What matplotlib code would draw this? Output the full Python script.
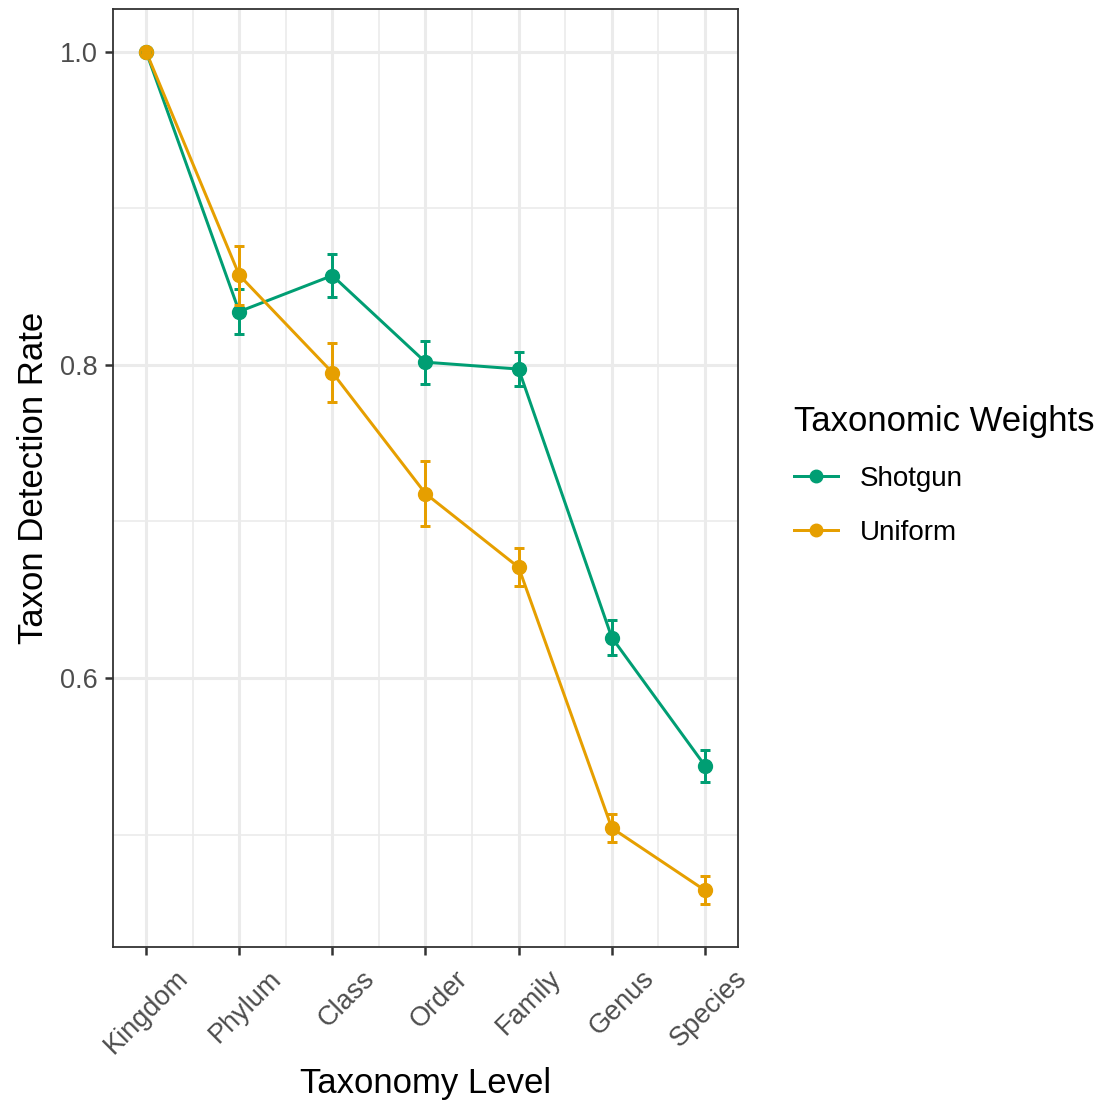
import matplotlib
matplotlib.use("Agg")
import matplotlib.pyplot as plt
import matplotlib.transforms as mtransforms
from matplotlib.lines import Line2D
import numpy as np

plt.rcParams['font.family'] = ['Liberation Sans', 'DejaVu Sans']

levels = ["Kingdom", "Phylum", "Class", "Order", "Family", "Genus", "Species"]
shotgun_rate = [1.0, 0.834, 0.857, 0.8017, 0.7973, 0.6259, 0.5441]
shotgun_err = [0.0, 0.0142, 0.0136, 0.0138, 0.0106, 0.0111, 0.0102]
uniform_rate = [1.0, 0.8573, 0.7951, 0.7178, 0.6707, 0.5043, 0.4645]
uniform_err = [0.0, 0.0188, 0.0191, 0.0209, 0.0121, 0.0090, 0.0090]
series_names = ["Shotgun", "Uniform"]
colors = ["#009E73", "#E69F00"]

W, H = 1097, 1102
fig = plt.figure(figsize=(W / 100, H / 100), dpi=100)
ax = fig.add_axes([113 / W, 1 - 947 / H, (738 - 113) / W, (947 - 9) / H])

x = np.arange(len(levels))
rates = [shotgun_rate, uniform_rate]
errs = [shotgun_err, uniform_err]

LW = 2.15
for r, c in zip(rates, colors):
    ax.plot(x, r, color=c, lw=LW, zorder=3)
for r, c in zip(rates, colors):
    ax.plot(x, r, 'o', color=c, ms=10, mec=c, zorder=4)
for r, e, c in zip(rates, errs, colors):
    ax.errorbar(x, r, yerr=e, fmt='none', ecolor=c, elinewidth=LW,
                capsize=3.3, capthick=LW, zorder=5)

ax.set_xlim(-0.355, 6.355)
ax.set_ylim(0.4283, 1.0272)
ax.set_xticks(x)
ax.set_xticklabels(levels, rotation=45, ha='right', va='top', rotation_mode='anchor')
ax.set_yticks([0.6, 0.8, 1.0])
ax.set_yticklabels(["0.6", "0.8", "1.0"])
ax.set_xticks(x[:-1] + 0.5, minor=True)
ax.set_yticks([0.5, 0.7, 0.9], minor=True)

ax.grid(True, which='major', color='#EBEBEB', lw=2.2, zorder=0)
ax.grid(True, which='minor', color='#EBEBEB', lw=1.2, zorder=0)
ax.set_axisbelow(True)
ax.tick_params(which='minor', length=0)
ax.tick_params(which='major', length=6, width=1.8, color='#333333',
               labelsize=19.5, labelcolor='#4D4D4D', pad=5)
for s in ax.spines.values():
    s.set_color('#333333')
    s.set_linewidth(1.3)

offset = mtransforms.ScaledTranslation(0.29, -0.03, fig.dpi_scale_trans)
for lbl in ax.get_xticklabels():
    lbl.set_transform(lbl.get_transform() + offset)

ax.set_xlabel("Taxonomy Level", fontsize=25, va='baseline')
ax.xaxis.set_label_coords(0.5, (947 - 1093) / 938)
ax.set_ylabel("Taxon Detection Rate", fontsize=25, labelpad=7)

handles = [Line2D([0], [0], color=c, lw=LW, marker='o', ms=9) for c in colors]
leg = fig.legend(handles, series_names, loc='upper left',
                 bbox_to_anchor=(794 / W, 1 - 405 / H), frameon=False,
                 title="Taxonomic Weights", title_fontsize=25, fontsize=20,
                 handlelength=1.58, handletextpad=0.79, labelspacing=1.0,
                 borderpad=0, borderaxespad=0)
leg._legend_box.align = "left"

fig.savefig("out.png", dpi=100)
